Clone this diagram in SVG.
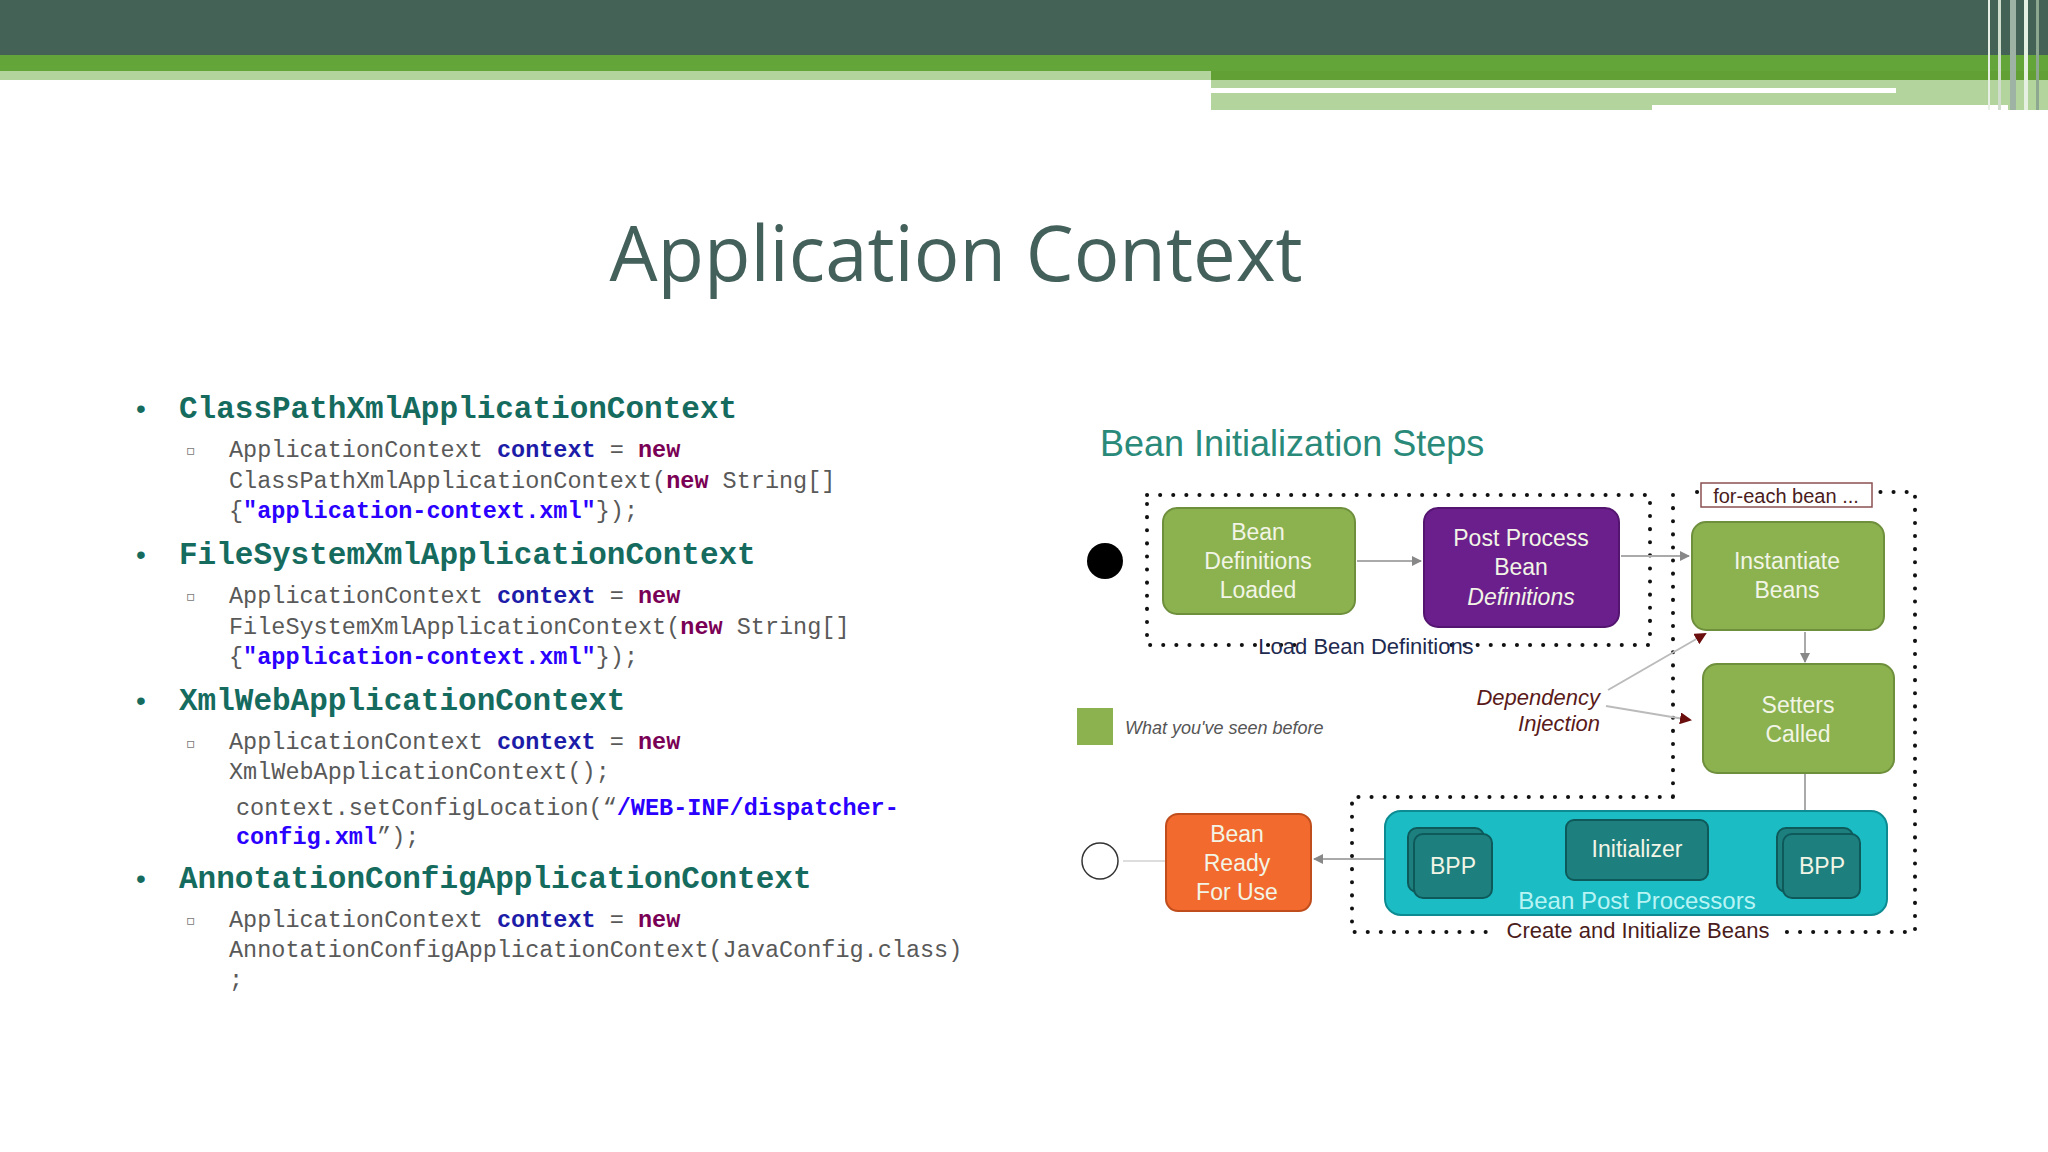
<svg xmlns="http://www.w3.org/2000/svg" width="2048" height="1152" viewBox="0 0 2048 1152">
<style>
.h{font-family:"Liberation Mono",monospace;font-weight:bold;font-size:31px;fill:#156b5e}
.c{font-family:"Liberation Mono",monospace;font-size:23.5px;fill:#595959}
.k{font-weight:bold;fill:#7a0055}
.v{font-weight:bold;fill:#1c1ca8}
.s{font-weight:bold;fill:#2a00ff}
.n{font-family:"Liberation Sans",Arial,sans-serif;font-size:23px;fill:#f2f5e6;text-anchor:middle}
.g{fill:#8bb24f;stroke:#6e8f3c;stroke-width:2}
.dot{fill:none;stroke:#111;stroke-width:4;stroke-linecap:round;stroke-dasharray:0.1 13}
.ar{stroke:#aaa;stroke-width:2;fill:none;marker-end:url(#ag)}
.dr{stroke:#bbb;stroke-width:2;fill:none;marker-end:url(#ad)}
</style>
<defs>
<marker id="ag" markerWidth="10" markerHeight="10" refX="9" refY="5" orient="auto" markerUnits="userSpaceOnUse"><path d="M0,0 L10,5 L0,10 Z" fill="#888"/></marker>
<marker id="ad" markerWidth="12" markerHeight="12" refX="10" refY="6" orient="auto" markerUnits="userSpaceOnUse"><path d="M0,0 L12,6 L0,12 Z" fill="#6a0e0e"/></marker>
</defs>
<rect width="2048" height="1152" fill="#fff"/>
<g id="header">
<rect x="0" y="0" width="2048" height="55" fill="#456256"/>
<rect x="0" y="55" width="2048" height="16" fill="#64a539"/>
<rect x="1211" y="71" width="837" height="9" fill="#62a036"/>
<rect x="0" y="71" width="1211" height="9" fill="#b3d49c"/>
<rect x="1211" y="80" width="837" height="30" fill="#b3d49c"/>
<rect x="1211" y="88" width="685" height="5" fill="#fff"/>
<rect x="1652" y="105" width="356" height="5" fill="#fff"/>
<rect x="1988" y="0" width="2" height="110" fill="#e8efe4"/>
<rect x="1998" y="0" width="3" height="110" fill="#d0dccc"/>
<rect x="2010" y="0" width="6" height="110" fill="#9fb3a4"/>
<rect x="2024" y="0" width="4" height="110" fill="#e5efe2"/>
<rect x="2036" y="0" width="3" height="110" fill="#8da790"/>
</g>
<text x="956" y="281" text-anchor="middle" font-family="'Open Sans','Liberation Sans',sans-serif" font-size="76" fill="#44605a">Application Context</text>
<g id="list">
<g fill="#156b5e" font-family="'Liberation Sans',sans-serif" font-size="28"><text x="136" y="418">•</text><text x="136" y="564">•</text><text x="136" y="710">•</text><text x="136" y="888">•</text></g>
<g fill="#777" font-family="'DejaVu Sans',sans-serif" font-size="14"><text x="186" y="455">▫</text><text x="186" y="601">▫</text><text x="186" y="748">▫</text><text x="186" y="925">▫</text></g>
<text class="h" x="179" y="418">ClassPathXmlApplicationContext</text>
<text class="c" x="229" y="457">ApplicationContext <tspan class="v">context</tspan> = <tspan class="k">new</tspan></text>
<text class="c" x="229" y="488">ClassPathXmlApplicationContext(<tspan class="k">new</tspan> String[]</text>
<text class="c" x="229" y="518">{<tspan class="s">"application-context.xml"</tspan>});</text>
<text class="h" x="179" y="564">FileSystemXmlApplicationContext</text>
<text class="c" x="229" y="603">ApplicationContext <tspan class="v">context</tspan> = <tspan class="k">new</tspan></text>
<text class="c" x="229" y="634">FileSystemXmlApplicationContext(<tspan class="k">new</tspan> String[]</text>
<text class="c" x="229" y="664">{<tspan class="s">"application-context.xml"</tspan>});</text>
<text class="h" x="179" y="710">XmlWebApplicationContext</text>
<text class="c" x="229" y="749">ApplicationContext <tspan class="v">context</tspan> = <tspan class="k">new</tspan></text>
<text class="c" x="229" y="779">XmlWebApplicationContext();</text>
<text class="c" x="236" y="815">context.setConfigLocation(“<tspan class="s">/WEB-INF/dispatcher-</tspan></text>
<text class="c" x="236" y="844"><tspan class="s">config.xml</tspan>”);</text>
<text class="h" x="179" y="888">AnnotationConfigApplicationContext</text>
<text class="c" x="229" y="927">ApplicationContext <tspan class="v">context</tspan> = <tspan class="k">new</tspan></text>
<text class="c" x="229" y="957">AnnotationConfigApplicationContext(JavaConfig.class)</text>
<text class="c" x="229" y="987">;</text>
</g>
<text x="1100" y="456" font-family="'Liberation Sans',Arial,sans-serif" font-size="36" fill="#2a8a7a">Bean Initialization Steps</text>
<g id="frames">
<rect class="dot" x="1147" y="495" width="503" height="150"/>
<path class="dot" d="M1673,495 V797 M1697,492 H1915 V932 H1352 V797 H1673" stroke="#5a1010"/>
<rect x="1300" y="640" width="140" height="24" fill="#fff"/>
<text x="1366" y="654" text-anchor="middle" font-family="'Liberation Sans',Arial,sans-serif" font-size="22" fill="#1e2a50">Load Bean Definitions</text>
<rect x="1490" y="925" width="290" height="24" fill="#fff"/>
<text x="1638" y="938" text-anchor="middle" font-family="'Liberation Sans',Arial,sans-serif" font-size="22" fill="#4a1c1c">Create and Initialize Beans</text>
</g>
<g id="foreach"><rect x="1701" y="483" width="171" height="24" fill="#fff" stroke="#8a5050" stroke-width="1.5"/><text x="1786" y="503" text-anchor="middle" font-family="'Liberation Sans',Arial,sans-serif" font-size="20" fill="#4a1c1c">for-each bean ...</text></g>
<g id="connectors">
<line class="ar" x1="1357" y1="561" x2="1421" y2="561"/>
<line class="ar" x1="1621" y1="556" x2="1689" y2="556"/>
<line class="ar" x1="1805" y1="632" x2="1805" y2="662"/>
<line class="ar" x1="1805" y1="774" x2="1805" y2="821"/>
<line class="ar" x1="1566" y1="861" x2="1495" y2="861"/>
<line class="ar" x1="1781" y1="861" x2="1710" y2="861"/>
<line class="ar" x1="1384" y1="859" x2="1314" y2="859"/>
<line x1="1123" y1="861" x2="1166" y2="861" stroke="#ddd" stroke-width="2"/>
<line class="dr" x1="1608" y1="690" x2="1705" y2="634"/>
<line class="dr" x1="1606" y1="706" x2="1690" y2="720"/>
</g>
<g id="start"><circle cx="1105" cy="561" r="18" fill="#000"/></g>
<g id="end"><circle cx="1100" cy="861" r="18" fill="#fff" stroke="#333" stroke-width="1.5"/></g>
<g id="loaded"><rect class="g" x="1163" y="508" width="192" height="106" rx="14"/><text class="n" x="1258" y="540">Bean</text><text class="n" x="1258" y="569">Definitions</text><text class="n" x="1258" y="598">Loaded</text></g>
<g id="postprocess"><rect x="1424" y="508" width="195" height="119" rx="14" fill="#6b1f8c" stroke="#541570" stroke-width="2"/><text class="n" x="1521" y="546">Post Process</text><text class="n" x="1521" y="575">Bean</text><text class="n" x="1521" y="605" font-style="italic">Definitions</text></g>
<g id="instantiate"><rect class="g" x="1692" y="522" width="192" height="108" rx="14"/><text class="n" x="1787" y="569">Instantiate</text><text class="n" x="1787" y="598">Beans</text></g>
<g id="setters"><rect class="g" x="1703" y="664" width="191" height="109" rx="14"/><text class="n" x="1798" y="713">Setters</text><text class="n" x="1798" y="742">Called</text></g>
<g id="bpps"><rect x="1385" y="811" width="502" height="104" rx="16" fill="#1bbcc4" stroke="#0c8c92" stroke-width="2"/>
<text x="1637" y="909" text-anchor="middle" font-family="'Liberation Sans',Arial,sans-serif" font-size="24" fill="#b8f4f4">Bean Post Processors</text></g>
<g id="bpp1"><rect x="1408" y="828" width="76" height="64" rx="9" fill="#1e7f7f" stroke="#0e5a5a" stroke-width="2"/><rect x="1414" y="834" width="78" height="64" rx="9" fill="#1e7f7f" stroke="#0e5a5a" stroke-width="2"/><text class="n" x="1453" y="874">BPP</text></g>
<g id="initializer"><rect x="1566" y="820" width="142" height="60" rx="8" fill="#1e7f7f" stroke="#0e5a5a" stroke-width="2"/><text class="n" x="1637" y="857">Initializer</text></g>
<g id="bpp2"><rect x="1777" y="828" width="76" height="64" rx="9" fill="#1e7f7f" stroke="#0e5a5a" stroke-width="2"/><rect x="1783" y="834" width="77" height="64" rx="9" fill="#1e7f7f" stroke="#0e5a5a" stroke-width="2"/><text class="n" x="1822" y="874">BPP</text></g>
<g id="ready"><rect x="1166" y="814" width="145" height="97" rx="12" fill="#f26a2e" stroke="#c04d1c" stroke-width="2"/><text class="n" x="1237" y="842">Bean</text><text class="n" x="1237" y="871">Ready</text><text class="n" x="1237" y="900">For Use</text></g>
<g id="legend"><rect x="1077" y="708" width="36" height="37" fill="#8bb24f"/><text x="1125" y="734" font-family="'Liberation Sans',Arial,sans-serif" font-style="italic" font-size="18" fill="#555">What you've seen before</text></g>
<g id="di" font-family="'Liberation Sans',Arial,sans-serif" font-style="italic" font-size="22" fill="#5a1a1a" text-anchor="end"><text x="1600" y="705">Dependency</text><text x="1600" y="731">Injection</text></g>
</svg>
